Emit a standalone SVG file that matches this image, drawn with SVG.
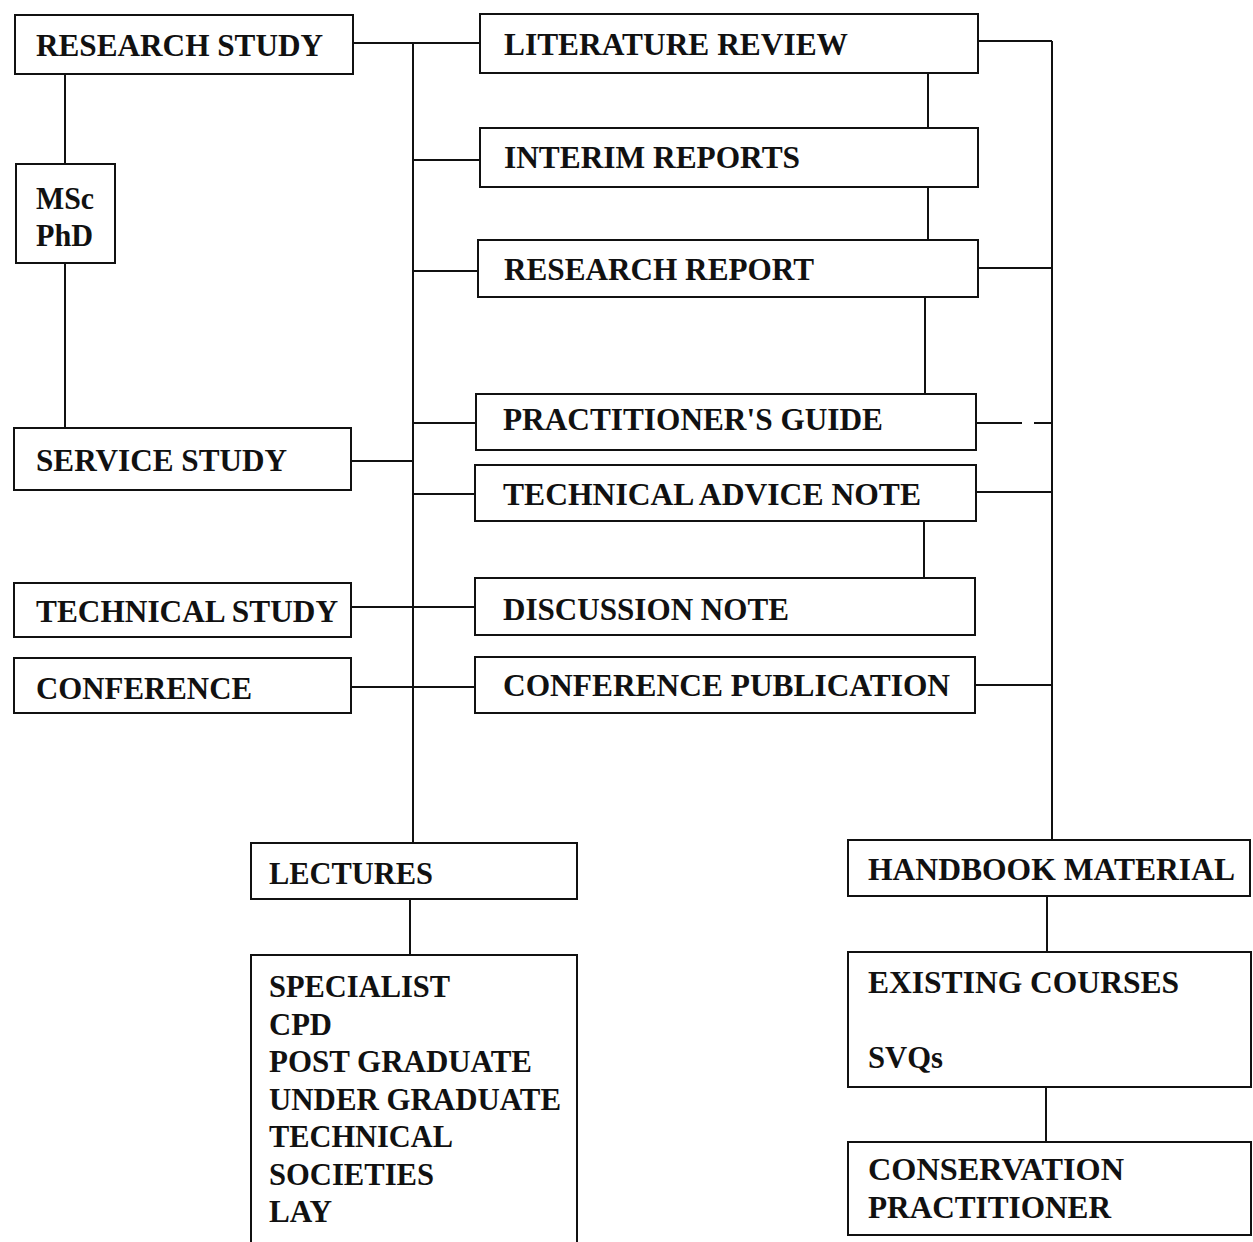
<svg xmlns="http://www.w3.org/2000/svg" width="1253" height="1242" viewBox="0 0 1253 1242">
<style>
.box{fill:none;stroke:#111;stroke-width:2}
.ln{fill:none;stroke:#111;stroke-width:2}
text{font-family:"Liberation Serif","Times New Roman",serif;font-weight:bold;font-size:32px;fill:#111}
</style>
<rect width="1253" height="1242" fill="#fff"/>
<g id="connectors">
<path class="ln" d="M65 74V164M65 263V428"/>
<path class="ln" d="M413 43V843M353 43H480M413 160H480M413 271H478M413 423H476M413 494H475M351 461H413M351 607H475M351 687H475"/>
<path class="ln" d="M928 73V128M928 187V240M925 297V394M924 521V578"/>
<path class="ln" d="M1052 41V840M978 41H1052M978 268H1052M976 492H1052M975 685H1052"/>
<path class="ln" d="M976 423H1052" stroke-dasharray="46 12"/>
<path class="ln" d="M410 899V955M1047 896V952M1046 1087V1142"/>
</g>
<g id="research-study"><rect class="box" x="15" y="15" width="338" height="59"/><text x="36" y="56" textLength="287" lengthAdjust="spacingAndGlyphs">RESEARCH STUDY</text></g>
<g id="msc-phd"><rect class="box" x="16" y="164" width="99" height="99"/><text x="36" y="209" textLength="58" lengthAdjust="spacingAndGlyphs">MSc</text><text x="36" y="246" textLength="57" lengthAdjust="spacingAndGlyphs">PhD</text></g>
<g id="service-study"><rect class="box" x="14" y="428" width="337" height="62"/><text x="36" y="471" textLength="251" lengthAdjust="spacingAndGlyphs">SERVICE STUDY</text></g>
<g id="technical-study"><rect class="box" x="14" y="583" width="337" height="54"/><text x="36" y="622" textLength="302" lengthAdjust="spacingAndGlyphs">TECHNICAL STUDY</text></g>
<g id="conference"><rect class="box" x="14" y="658" width="337" height="55"/><text x="36" y="699" textLength="216" lengthAdjust="spacingAndGlyphs">CONFERENCE</text></g>
<g id="literature-review"><rect class="box" x="480" y="14" width="498" height="59"/><text x="504" y="55" textLength="344" lengthAdjust="spacingAndGlyphs">LITERATURE REVIEW</text></g>
<g id="interim-reports"><rect class="box" x="480" y="128" width="498" height="59"/><text x="504" y="168" textLength="296" lengthAdjust="spacingAndGlyphs">INTERIM REPORTS</text></g>
<g id="research-report"><rect class="box" x="478" y="240" width="500" height="57"/><text x="504" y="280" textLength="310" lengthAdjust="spacingAndGlyphs">RESEARCH REPORT</text></g>
<g id="practitioners-guide"><rect class="box" x="476" y="394" width="500" height="56"/><text x="503" y="430" textLength="380" lengthAdjust="spacingAndGlyphs">PRACTITIONER'S GUIDE</text></g>
<g id="technical-advice-note"><rect class="box" x="475" y="465" width="501" height="56"/><text x="503" y="505" textLength="418" lengthAdjust="spacingAndGlyphs">TECHNICAL ADVICE NOTE</text></g>
<g id="discussion-note"><rect class="box" x="475" y="578" width="500" height="57"/><text x="503" y="620" textLength="286" lengthAdjust="spacingAndGlyphs">DISCUSSION NOTE</text></g>
<g id="conference-publication"><rect class="box" x="475" y="657" width="500" height="56"/><text x="503" y="696" textLength="447" lengthAdjust="spacingAndGlyphs">CONFERENCE PUBLICATION</text></g>
<g id="lectures"><rect class="box" x="251" y="843" width="326" height="56"/><text x="269" y="884" textLength="164" lengthAdjust="spacingAndGlyphs">LECTURES</text></g>
<g id="lecture-types"><rect class="box" x="251" y="955" width="326" height="300"/>
<text x="269" y="997" textLength="181" lengthAdjust="spacingAndGlyphs">SPECIALIST</text>
<text x="269" y="1035" textLength="63" lengthAdjust="spacingAndGlyphs">CPD</text>
<text x="269" y="1072" textLength="263" lengthAdjust="spacingAndGlyphs">POST GRADUATE</text>
<text x="269" y="1110" textLength="292" lengthAdjust="spacingAndGlyphs">UNDER GRADUATE</text>
<text x="269" y="1147" textLength="184" lengthAdjust="spacingAndGlyphs">TECHNICAL</text>
<text x="269" y="1185" textLength="165" lengthAdjust="spacingAndGlyphs">SOCIETIES</text>
<text x="269" y="1222" textLength="63" lengthAdjust="spacingAndGlyphs">LAY</text></g>
<g id="handbook-material"><rect class="box" x="848" y="840" width="402" height="56"/><text x="868" y="880" textLength="367" lengthAdjust="spacingAndGlyphs">HANDBOOK MATERIAL</text></g>
<g id="existing-courses"><rect class="box" x="848" y="952" width="403" height="135"/><text x="868" y="993" textLength="311" lengthAdjust="spacingAndGlyphs">EXISTING COURSES</text><text x="868" y="1068" textLength="75" lengthAdjust="spacingAndGlyphs">SVQs</text></g>
<g id="conservation-practitioner"><rect class="box" x="848" y="1142" width="403" height="93"/><text x="868" y="1180" textLength="256" lengthAdjust="spacingAndGlyphs">CONSERVATION</text><text x="868" y="1218" textLength="243" lengthAdjust="spacingAndGlyphs">PRACTITIONER</text></g>
</svg>
